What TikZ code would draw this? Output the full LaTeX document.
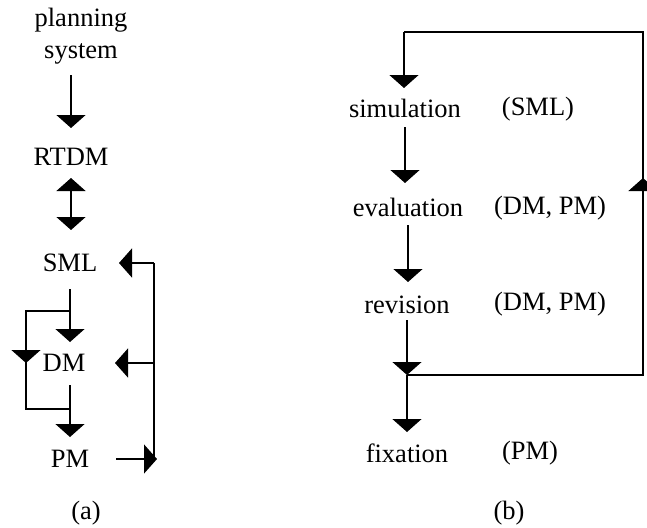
\documentclass[tikz,border=0pt]{standalone}
\usepackage{fontspec}
\setmainfont{Liberation Serif}
\usetikzlibrary{arrows.meta}

\begin{document}
\begin{tikzpicture}[x=1pt, y=-1pt, line width=1.4pt,
    every node/.style={font=\fontsize{26.5}{32}\selectfont},
    arr/.style={-{Triangle[width=29pt,length=13pt]}},
    dbl/.style={{Triangle[width=29pt,length=13pt]}-{Triangle[width=29pt,length=13pt]}}]
  \useasboundingbox (0,0) rectangle (647,527);
  %(a) labels
  \node[align=center] (plan) at (81,36) {planning\\system};
  \node (rtdm) at (71,157) {RTDM};
  \node (sml) at (70,263) {SML};
  \node (dm) at (64,363) {DM};
  \node (pm) at (70,459) {PM};
  \node (capa) at (86,513) {(a)};
  %(a) vertical arrows
  \draw[arr, shorten <=39pt, shorten >=29pt] (plan.center -| rtdm.center) -- (rtdm.center);
  \draw[dbl, shorten <=21pt, shorten >=33pt] (rtdm.center) -- (rtdm.center |- sml.center);
  \draw[arr, shorten <=26pt, shorten >=21pt] (sml.center) -- (sml.center |- dm.center);
  \draw[arr, shorten <=22pt, shorten >=22pt] (sml.center |- dm.center) -- (sml.center |- pm.center);
  %(a) left branch
  \coordinate (bt) at (26,311);
  \coordinate (bb) at (26,409);
  \draw (sml.center |- bt) -- (bt) -- (bb) -- (sml.center |- bb);
  \draw[arr] (bt) -- (bt |- dm.center);
  %(a) right bus
  \coordinate (bus) at (154,460);
  \draw (sml.center -| bus) -- (bus);
  \draw[arr, shorten >=49pt] (sml.center -| bus) -- (sml.center);
  \draw[arr, shorten >=51pt] (dm.center -| bus) -- (dm.center);
  \draw[arr, shorten <=46pt, shorten >=-3pt] (pm.center) -- (pm.center -| bus);

  %(b) labels
  \node (sim) at (405,108) {simulation};
  \node (simt) at (538,109) {(SML)};
  \node (eval) at (408,207) {evaluation};
  \node (evalt) at (550,208) {(DM, PM)};
  \node (rev) at (407,305) {revision};
  \node (revt) at (550,304) {(DM, PM)};
  \node (fix) at (407,453) {fixation};
  \node (fixt) at (530,453) {(PM)};
  \node (capb) at (509,513) {(b)};
  %(b) loop
  \coordinate (tl) at (404,32);
  \coordinate (tr) at (643,32);
  \coordinate (br) at (643,375);
  \coordinate (up) at (643,178);
  \draw[arr, shorten >=20pt] (tl) -- (tl |- sim.center);
  \draw (rev.center |- br) -- (br) -- (tr) -- (tl);
  \draw[arr] (br) -- (up);
  %(b) steps
  \draw[arr, shorten <=19pt, shorten >=24pt] (sim.center) -- (sim.center |- eval.center);
  \draw[arr, shorten <=18pt, shorten >=23pt] (eval.center) -- (eval.center |- rev.center);
  \draw[arr, shorten <=15pt] (rev.center) -- (rev.center |- br);
  \draw[arr, shorten >=21pt] (rev.center |- br) -- (rev.center |- fix.center);
\end{tikzpicture}
\end{document}
